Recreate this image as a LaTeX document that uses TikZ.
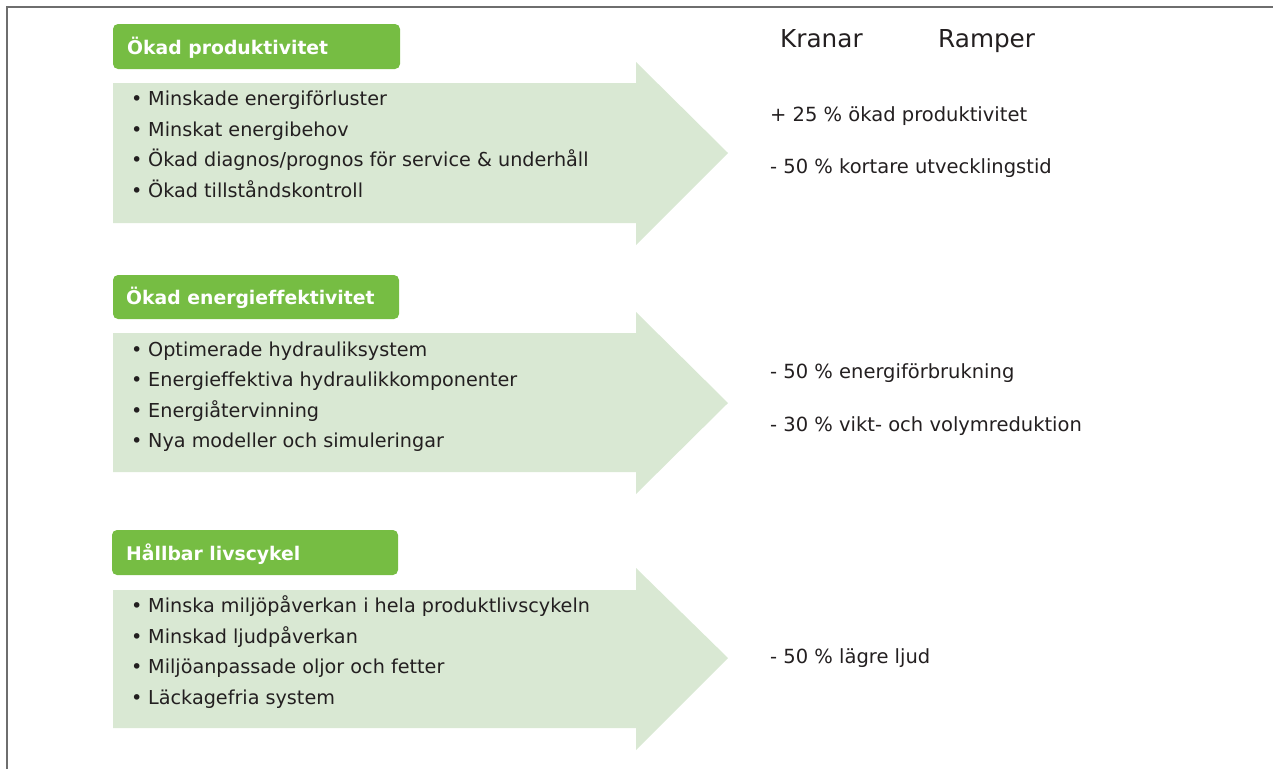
\documentclass[tikz,border=0pt]{standalone}
\usepackage{fontspec}
\setmainfont{DejaVu Sans}[Ligatures=NoCommon]
\definecolor{headgreen}{RGB}{118,189,67}
\definecolor{arrowgreen}{RGB}{217,232,211}
\definecolor{ink}{RGB}{35,31,32}
\definecolor{framegray}{RGB}{110,110,110}
\tikzset{
  header/.style={fill=headgreen, rounded corners=5pt, draw=none},
  headtext/.style={anchor=base west, inner sep=0pt, text=white, font=\fontsize{18.8}{22}\selectfont\bfseries},
  itemtext/.style={anchor=base west, inner sep=0pt, text=ink, font=\fontsize{19.2}{22}\selectfont},
  resulttext/.style={anchor=base west, inner sep=0pt, text=ink, font=\fontsize{19.5}{23}\selectfont},
  coltext/.style={anchor=base west, inner sep=0pt, text=ink, font=\fontsize{24.7}{29}\selectfont},
  bigarrow/.style={fill=arrowgreen, draw=none},
}
\newcommand{\itm}{\makebox[17pt][l]{•}}
\begin{document}
\begin{tikzpicture}[x=1pt, y=-1pt]
\useasboundingbox (0,0) rectangle (1273,769);
% open frame: left and top edges
\draw[framegray, line width=2pt] (6.5,769) -- (6.5,6.5) -- (1273,6.5);

% --- Ökad produktivitet ---
\path[bigarrow] (113,83) -- (636,83) -- (636,62) -- (728,153) -- (636,245) -- (636,223) -- (113,223) -- cycle;
\path[header] (113,24) rectangle (400,69);
\node[headtext] (h1) at (127,54) {Ökad produktivitet};
\node[itemtext] (a1) at (131,105) {\itm Minskade energiförluster};
\node[itemtext] (a2) at (131,136) {\itm Minskat energibehov};
\node[itemtext] (a3) at (131,166) {\itm Ökad diagnos/prognos för service \& underhåll};
\node[itemtext] (a4) at (131,197) {\itm Ökad tillståndskontroll};

% --- Ökad energieffektivitet ---
\path[bigarrow] (113,333) -- (636,333) -- (636,312) -- (728,403) -- (636,494) -- (636,472) -- (113,472) -- cycle;
\path[header] (113,275) rectangle (399,319);
\node[headtext] (h2) at (126,304) {Ökad energieffektivitet};
\node[itemtext] (b1) at (131,356) {\itm Optimerade hydrauliksystem};
\node[itemtext] (b2) at (131,386) {\itm Energieffektiva hydraulikkomponenter};
\node[itemtext] (b3) at (131,417) {\itm Energiåtervinning};
\node[itemtext] (b4) at (131,447) {\itm Nya modeller och simuleringar};

% --- Hållbar livscykel ---
\path[bigarrow] (113,590) -- (636,590) -- (636,568) -- (728,658) -- (636,750) -- (636,728) -- (113,728) -- cycle;
\path[header] (112,530) rectangle (398,575);
\node[headtext] (h3) at (126,560) {Hållbar livscykel};
\node[itemtext] (c1) at (131,612) {\itm Minska miljöpåverkan i hela produktlivscykeln};
\node[itemtext] (c2) at (131,643) {\itm Minskad ljudpåverkan};
\node[itemtext] (c3) at (131,673) {\itm Miljöanpassade oljor och fetter};
\node[itemtext] (c4) at (131,704) {\itm Läckagefria system};

% column headings
\node[coltext] (kranar) at (780,47) {Kranar};
\node[coltext] (ramper) at (938,47) {Ramper};

% results
\node[resulttext] (r1) at (770,121) {+ 25 \% ökad produktivitet};
\node[resulttext] (r2) at (770,173) {- 50 \% kortare utvecklingstid};
\node[resulttext] (r3) at (770,378) {- 50 \% energiförbrukning};
\node[resulttext] (r4) at (770,431) {- 30 \% vikt- och volymreduktion};
\node[resulttext] (r5) at (770,663) {- 50 \% lägre ljud};
\end{tikzpicture}
\end{document}
